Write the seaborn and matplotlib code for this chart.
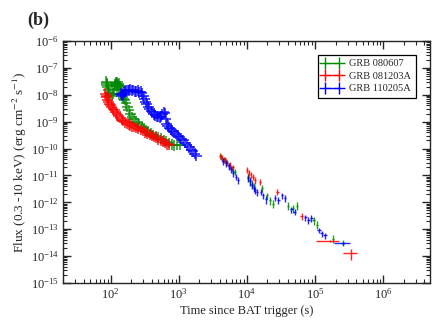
import matplotlib
matplotlib.use("Agg")
import matplotlib.pyplot as plt
import seaborn as sns
import pandas as pd
from matplotlib.lines import Line2D
from matplotlib.ticker import LogLocator, NullFormatter

# early (dense) part of the light curves: time (s), flux (erg cm^-2 s^-1)
green_t = [86, 87, 88, 90, 92, 95, 98, 103, 108, 112, 114, 116, 118, 120, 122, 124, 126,
           128, 130, 132, 134, 136, 140, 143, 146, 152, 156, 160, 168, 176, 185, 195, 205,
           218, 232, 248, 265, 285, 305, 330, 355, 385, 420, 460, 500, 550, 600, 660,
           720, 790, 860, 940, 1030]
green_f = [3.1e-8, 2.7e-8, 2.4e-8, 1.9e-8, 1.5e-8, 1.2e-8, 1.0e-8, 9e-9, 1.1e-8, 1.6e-8,
           2.4e-8, 2.2e-8, 2.8e-8, 2.6e-8, 2.2e-8, 2.5e-8, 2.9e-8, 2.2e-8, 2.4e-8, 2.6e-8,
           2.1e-8, 2.0e-8, 1.5e-8, 1.3e-8, 1.1e-8, 8e-9, 7e-9, 6.5e-9, 4.8e-9, 3.5e-9,
           2.6e-9, 1.9e-9, 1.5e-9, 1.25e-9, 1.0e-9, 9e-10, 7.8e-10, 6.5e-10, 5.8e-10,
           4.8e-10, 4.2e-10, 3.6e-10, 3.2e-10, 2.9e-10, 2.6e-10, 2.3e-10, 2.0e-10,
           1.8e-10, 1.6e-10, 1.4e-10, 1.3e-10, 1.35e-10, 1.4e-10]

red_t = [84, 86, 88, 90, 93, 96, 100, 104, 108, 113, 118, 124, 130, 137, 145, 153, 162,
         172, 183, 195, 208, 222, 238, 255, 275, 296, 320, 345, 372, 400, 430, 465, 500,
         540, 585, 630, 680, 730]
red_f = [1.1e-8, 9e-9, 8e-9, 6.5e-9, 5.5e-9, 4.6e-9, 4e-9, 3.4e-9, 3.0e-9, 2.6e-9, 2.2e-9,
         1.9e-9, 1.6e-9, 1.4e-9, 1.2e-9, 1.05e-9, 9.5e-10, 8.8e-10, 8e-10, 7.4e-10,
         6.8e-10, 6.3e-10, 5.8e-10, 5.4e-10, 4.9e-10, 4.5e-10, 4.0e-10, 3.7e-10, 3.3e-10,
         3.0e-10, 2.7e-10, 2.5e-10, 2.2e-10, 2.0e-10, 1.8e-10, 1.6e-10, 1.45e-10, 1.35e-10]

blue_t = [140, 145, 150, 156, 162, 170, 178, 186, 195, 205, 215, 226, 238, 250, 262, 275,
          288, 300, 312, 325, 340, 355, 370, 390, 410, 430, 450, 475, 500, 525, 550, 575,
          600, 620, 640, 665, 690, 720, 760, 800, 850, 900, 960, 1020, 1090, 1160, 1240,
          1320, 1420, 1520, 1620, 1720, 1820]
blue_f = [1.1e-8, 9e-9, 1.0e-8, 1.2e-8, 1.35e-8, 1.4e-8, 1.5e-8, 1.45e-8, 1.55e-8, 1.4e-8,
          1.5e-8, 1.35e-8, 1.3e-8, 1.4e-8, 1.25e-8, 1.3e-8, 1.15e-8, 9e-9, 7e-9, 5.5e-9,
          4.5e-9, 3.6e-9, 3.0e-9, 2.5e-9, 2.2e-9, 1.9e-9, 1.7e-9, 1.6e-9, 1.5e-9, 1.4e-9,
          1.55e-9, 1.9e-9, 2.3e-9, 2.1e-9, 1.3e-9, 8.5e-10, 7e-10, 6e-10, 5.2e-10, 4.5e-10,
          4.0e-10, 3.5e-10, 3.0e-10, 2.6e-10, 2.3e-10, 2.0e-10, 1.6e-10, 1.3e-10, 1.1e-10,
          9e-11, 8e-11, 6.5e-11, 5.5e-11]

# late part: time, flux, time half-width, flux error
green_late_t = [4200, 4600, 5000, 5500, 6000, 6600, 10300, 11000, 11800, 12800, 16500,
                19500, 22000, 24000, 40000, 47000, 54000, 95000, 106000, 185000, 260000]
green_late_f = [5.0e-11, 4.0e-11, 3.2e-11, 2.4e-11, 1.8e-11, 1.4e-11, 9e-12, 6.5e-12,
                5e-12, 4e-12, 3.5e-12, 1.8e-12, 1.2e-12, 9e-13, 7.5e-13, 6e-13, 7.5e-13,
                2.2e-13, 1.5e-13, 4.5e-14, 3.1e-14]
green_late_te = [150, 150, 200, 200, 250, 250, 300, 300, 350, 350, 600, 700, 900, 900,
                 1500, 1800, 2000, 3500, 4000, 8000, 20000]
green_late_fe = [1.2e-11, 1.0e-11, 8e-12, 6e-12, 5e-12, 4e-12, 3e-12, 2e-12, 1.5e-12,
                 1.2e-12, 1e-12, 5e-13, 4e-13, 3e-13, 2.5e-13, 2e-13, 2.5e-13, 7e-14,
                 5e-14, 1.5e-14, 8e-15]

red_late_t = [4000, 4300, 4700, 5100, 5600, 6200, 10000, 10600, 11300, 12200, 13000,
              15500, 28000, 64000, 165000, 340000]
red_late_f = [5.5e-11, 4.5e-11, 4.0e-11, 3.0e-11, 2.5e-11, 2.0e-11, 1.6e-11, 1.3e-11,
              1.1e-11, 9e-12, 7e-12, 5.8e-12, 2.5e-12, 3.2e-13, 3.7e-14, 1.3e-14]
red_late_te = [150, 150, 200, 200, 250, 250, 300, 300, 350, 350, 400, 500, 1200, 3000,
               62000, 80000]
red_late_fe = [1.5e-11, 1.2e-11, 1.0e-11, 8e-12, 7e-12, 5e-12, 4e-12, 3.5e-12, 3e-12,
               2.5e-12, 2e-12, 1.5e-12, 7e-13, 9e-14, 4e-15, 6e-15]

blue_late_t = [4500, 5000, 5400, 5800, 6300, 6900, 7400, 10500, 11200, 11800, 12500, 13200,
               14000, 16000, 17500, 19000, 26000, 29000, 33000, 36000, 45000, 50000,
               72000, 80000, 88000, 115000, 125000, 140000, 260000]
blue_late_f = [3.5e-11, 2.8e-11, 2.2e-11, 1.7e-11, 1.2e-11, 9e-12, 7e-12, 8e-12, 6e-12,
               4.5e-12, 3.5e-12, 2.8e-12, 2.4e-12, 2.5e-12, 1.8e-12, 1.3e-12, 1.5e-12,
               1.2e-12, 1.8e-12, 1.4e-12, 5.5e-13, 4.5e-13, 2.8e-13, 2.2e-13, 2.6e-13,
               9e-14, 7e-14, 6e-14, 3.0e-14]
blue_late_te = [150, 150, 200, 200, 250, 250, 300, 300, 300, 350, 350, 400, 400, 500, 600,
                700, 1000, 1200, 1400, 1500, 2000, 2500, 3500, 4000, 4500, 9000, 8000,
                10000, 70000]
blue_late_fe = [1e-11, 8e-12, 6e-12, 5e-12, 3.5e-12, 2.5e-12, 2e-12, 2.5e-12, 1.8e-12,
                1.3e-12, 1e-12, 8e-13, 7e-13, 7e-13, 5e-13, 4e-13, 4e-13, 3.5e-13, 5e-13,
                4e-13, 1.5e-13, 1.2e-13, 7e-14, 6e-14, 7e-14, 2e-14, 1.8e-14, 1.5e-14,
                5e-15]

names = ["GRB 080607", "GRB 081203A", "GRB 110205A"]
colors = ["#008a00", "#ff0000", "#0000ff"]

sns.set_style("ticks")
plt.rcParams["font.family"] = ["Liberation Serif", "DejaVu Serif"]
plt.rcParams["mathtext.fontset"] = "stix"
plt.rcParams["font.size"] = 8

early = pd.concat([
    pd.DataFrame({"t": green_t, "flux": green_f, "grb": names[0]}),
    pd.DataFrame({"t": red_t, "flux": red_f, "grb": names[1]}),
    pd.DataFrame({"t": blue_t, "flux": blue_f, "grb": names[2]}),
])

fig = plt.figure(figsize=(4.47, 3.33), dpi=100)
ax = fig.add_axes([0.141, 0.150, 0.820, 0.727])

sns.scatterplot(data=early, x="t", y="flux", hue="grb", palette=colors, marker="+",
                s=60, linewidth=1.3, alpha=0.75, legend=False, ax=ax)

late = [(green_late_t, green_late_f, green_late_te, green_late_fe),
        (red_late_t, red_late_f, red_late_te, red_late_fe),
        (blue_late_t, blue_late_f, blue_late_te, blue_late_fe)]
for (t, f, te, fe), c in zip(late, colors):
    ax.errorbar(t, f, xerr=te, yerr=fe, fmt="none", ecolor=c, elinewidth=1.0, alpha=0.85)

ax.set_xscale("log")
ax.set_yscale("log")
ax.set_xlim(20, 4.8e6)
ax.set_ylim(1e-15, 1e-6)
ax.yaxis.set_major_locator(LogLocator(base=10, numticks=20))
ax.yaxis.set_minor_locator(LogLocator(base=10, subs=range(2, 10), numticks=20))
ax.yaxis.set_minor_formatter(NullFormatter())
ax.xaxis.set_minor_formatter(NullFormatter())
ax.tick_params(which="both", direction="in", top=True, right=True, labelsize=9, pad=3)
ax.tick_params(which="major", length=6, width=1)
ax.tick_params(which="minor", length=3, width=0.8)
for sp in ax.spines.values():
    sp.set_linewidth(1.0)

ax.set_xlabel("Time since BAT trigger (s)", fontsize=9, labelpad=2)
ax.set_ylabel("Flux (0.3 -10 keV) (erg cm$^{-2}$ s$^{-1}$)", fontsize=9.5, labelpad=1)

handles = [Line2D([], [], color=c, marker="+", markersize=8, lw=0.9, mew=1.0) for c in colors]
leg = ax.legend(handles, names, loc="upper right", numpoints=2, fancybox=False,
                framealpha=1, edgecolor="black", fontsize=7.5, handlelength=1.9,
                borderaxespad=1.3, labelspacing=0.3, borderpad=0.45, handletextpad=0.7)
leg.get_frame().set_linewidth(0.9)

fig.text(0.06, 0.925, "(b)", fontsize=13, fontweight="bold")

fig.savefig("out.png", dpi=100)
